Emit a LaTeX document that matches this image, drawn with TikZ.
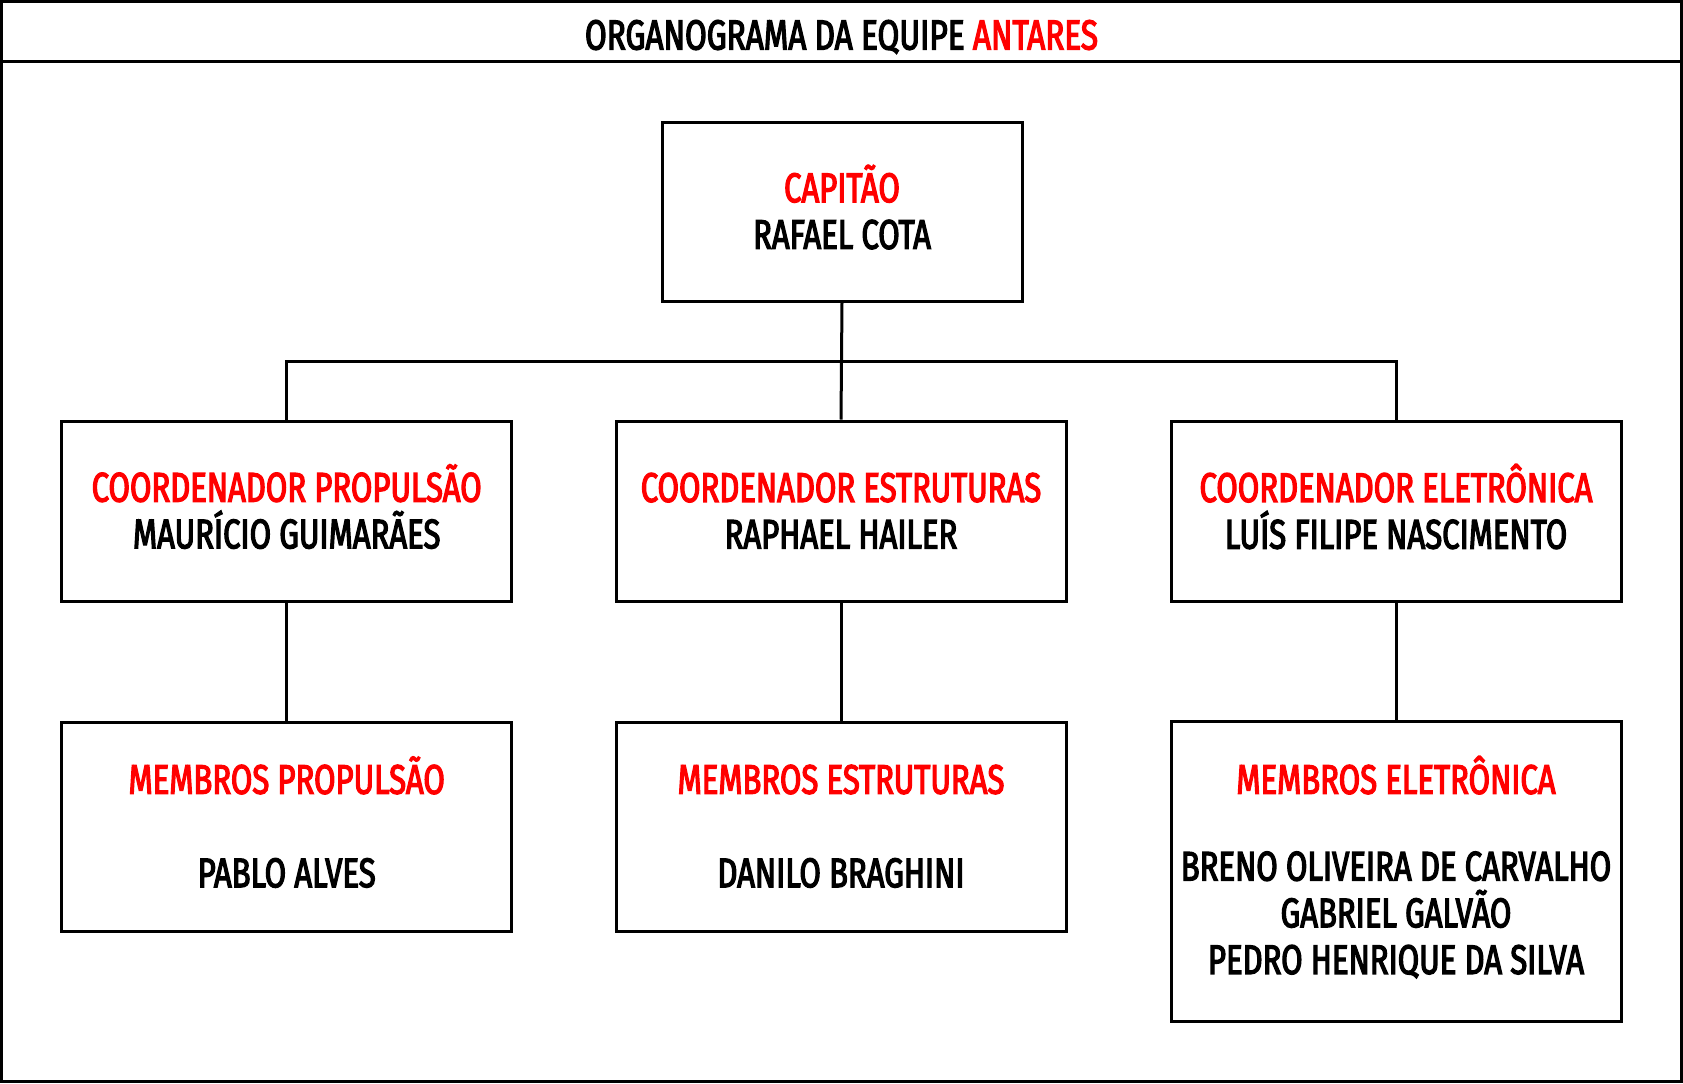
\documentclass[tikz,border=0pt]{standalone}
\usepackage{fontspec}
\setmainfont{Fira Sans}[FakeStretch=0.75,FakeBold=3]
\definecolor{rolered}{RGB}{255,0,0}
\begin{document}
\begin{tikzpicture}[x=0.5pt,y=-0.5pt,
  box/.style={draw=black,line width=1.5pt,rectangle,inner sep=0pt},
  boxtext/.style={align=center,inner sep=0pt,yshift=2.2pt,
    font=\fontsize{20.7}{23.35}\selectfont,text=black},
  link/.style={draw=black,line width=1.5pt}]
\useasboundingbox (0,0) rectangle (1683,1083);
\draw[line width=1.5pt] (1.5,1.5) rectangle (1681.5,1081.5);
\coordinate (tl) at (0,61);
\coordinate (tr) at (1683,61);
\draw[line width=1.5pt] (tl) -- (tr);
\node[anchor=base,font=\fontsize{21}{24}\selectfont,inner sep=0pt] (title) at (841.5,49.5)
  {ORGANOGRAMA DA EQUIPE \textcolor{rolered}{ANTARES}};
% boxes (sizes in pt = px/2)
\node[box,minimum width=180pt,minimum height=89.5pt] (cap) at (842,211.5) {};
\node[box,minimum width=225pt,minimum height=90pt] (m1) at (286.7,511) {};
\node[box,minimum width=225pt,minimum height=90pt] (m2) at (841,511) {};
\node[box,minimum width=225pt,minimum height=90pt] (m3) at (1396,511) {};
\node[box,minimum width=225pt,minimum height=104.5pt] (b1) at (286.7,826.5) {};
\node[box,minimum width=225pt,minimum height=104.5pt] (b2) at (841,826.5) {};
\node[box,minimum width=225pt,minimum height=150pt] (b3) at (1396,871.5) {};
% texts
\node[boxtext] (capt) at (cap.center)
  {\textcolor{rolered}{CAPITÃO}\\RAFAEL COTA};
\node[boxtext] (m1t) at (m1.center)
  {\textcolor{rolered}{COORDENADOR PROPULSÃO}\\MAURÍCIO GUIMARÃES};
\node[boxtext] (m2t) at (m2.center)
  {\vphantom{Ã}\textcolor{rolered}{COORDENADOR ESTRUTURAS}\\RAPHAEL HAILER};
\node[boxtext] (m3t) at (m3.center)
  {\textcolor{rolered}{COORDENADOR ELETRÔNICA}\\LUÍS FILIPE NASCIMENTO};
\node[boxtext] (b1t) at (b1.center)
  {\textcolor{rolered}{MEMBROS PROPULSÃO}\\[23.35pt]PABLO ALVES};
\node[boxtext] (b2t) at (b2.center)
  {\vphantom{Ã}\textcolor{rolered}{MEMBROS ESTRUTURAS}\\[23.35pt]DANILO BRAGHINI};
\node[boxtext] (b3t) at (b3.center)
  {\textcolor{rolered}{MEMBROS ELETRÔNICA}\\[20pt]BRENO OLIVEIRA DE CARVALHO\\GABRIEL GALVÃO\\PEDRO HENRIQUE DA SILVA};
% connectors
\coordinate (bus) at (841,361);
\draw[link] (cap.south) -- (m2.north);
\draw[link] (m1.north) |- (bus) -| (m3.north);
\draw[link] (m1.south) -- (b1.north);
\draw[link] (m2.south) -- (b2.north);
\draw[link] (m3.south) -- (b3.north);
\end{tikzpicture}
\end{document}
